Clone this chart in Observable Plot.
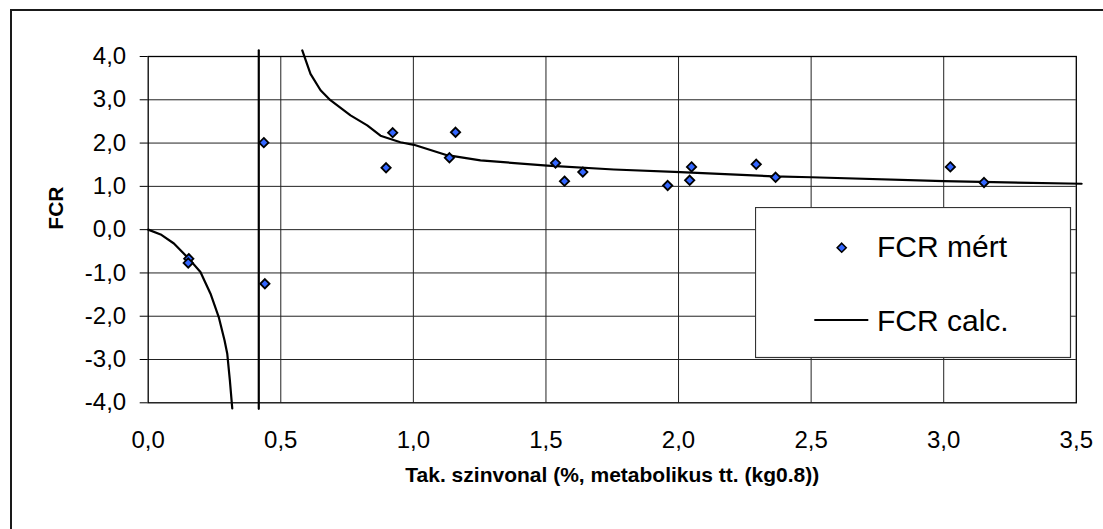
<!DOCTYPE html>
<html><head><meta charset="utf-8">
<script src="https://cdn.jsdelivr.net/npm/d3@7"></script>
<script src="https://cdn.jsdelivr.net/npm/@observablehq/plot@0.6"></script>
<style>
html,body{margin:0;padding:0;background:#fff;overflow:hidden;}
#wrap{position:relative;width:1103px;height:529px;overflow:hidden;font-family:"Liberation Sans",Arial,sans-serif;}
#border{position:absolute;left:10px;top:9px;width:1300px;height:700px;border-left:2px solid #1a1a1a;border-top:2px solid #1a1a1a;box-sizing:border-box;pointer-events:none;}
#legend{position:absolute;left:755px;top:207px;}
</style></head><body><div id="wrap"></div>
<script>
// tick values
const xTicks = [0, 0.5, 1, 1.5, 2, 2.5, 3, 3.5];
const yTicks = [-4, -3, -2, -1, 0, 1, 2, 3, 4];
const xGrid = [0.5, 1, 1.5, 2, 2.5, 3];
const yGrid = [-3, -2, -1, 0, 1, 2, 3];

// FCR mért (measured)
const measuredX = [0.153, 0.151, 0.436, 0.440, 0.897, 0.922, 1.136, 1.159, 1.536, 1.570, 1.639, 1.959, 2.042, 2.049, 2.293, 2.366, 3.025, 3.152];
const measuredY = [-0.67, -0.77, 2.01, -1.25, 1.43, 2.24, 1.66, 2.25, 1.54, 1.12, 1.33, 1.02, 1.14, 1.45, 1.51, 1.21, 1.45, 1.09];

// FCR calc. (three visible pieces)
const calcPiece = [1,1,1,1,1,1,1,1,1,1,1, 2,2, 3,3,3,3,3,3,3,3,3,3,3,3,3,3,3,3,3,3];
const calcX = [0, 0.047, 0.097, 0.153, 0.197, 0.235, 0.266, 0.288, 0.298, 0.308, 0.317,
               0.417, 0.417,
               0.581, 0.612, 0.650, 0.687, 0.763, 0.826, 0.876, 0.951, 1.002, 1.127, 1.253, 1.505, 1.756, 2.007, 2.359, 2.5, 3.0, 3.52];
const calcY = [0, -0.11, -0.32, -0.67, -0.98, -1.48, -2.02, -2.56, -2.86, -3.48, -4.13,
               -4.14, 4.14,
               4.14, 3.6, 3.22, 2.99, 2.64, 2.41, 2.17, 2.02, 1.96, 1.72, 1.60, 1.48, 1.39, 1.33, 1.23, 1.21, 1.12, 1.06];

const xTitle = "Tak. szinvonal (%, metabolikus tt. (kg0.8))";
const yTitle = "FCR";
const legendLabels = ["FCR mért", "FCR calc."];

const measured = measuredX.map((x, i) => ({x, y: measuredY[i]}));
const calc = calcX.map((x, i) => ({x, y: calcY[i], piece: calcPiece[i]}));
const fmt = d => d.toFixed(1).replace(".", ",");
const font = '"Liberation Sans", Arial, sans-serif';

const chart = Plot.plot({
  width: 1103,
  height: 529,
  marginLeft: 147.7,
  marginRight: 27.2,
  marginTop: 56,
  marginBottom: 126.7,
  style: {fontFamily: font, background: "transparent", color: "#000", overflow: "visible"},
  x: {domain: [0, 3.5]},
  y: {domain: [-4, 4]},
  marks: [
    Plot.gridX(xGrid, {stroke: "#222", strokeOpacity: 1, strokeWidth: 1}),
    Plot.gridY(yGrid, {stroke: "#222", strokeOpacity: 1, strokeWidth: 1}),
    Plot.frame({stroke: "#000", strokeWidth: 1.3}),
    Plot.axisY({ticks: yTicks, tickSize: 8, tickPadding: 14, fontSize: 24, tickFormat: fmt, label: null}),
    Plot.axisX({ticks: xTicks, tickSize: 0, tickPadding: 28, fontSize: 24, tickFormat: fmt, label: null}),
    Plot.line(calc, {x: "x", y: "y", z: "piece", stroke: "#000", strokeWidth: 2.2, curve: "linear"}),
    Plot.dot(measured, {x: "x", y: "y", symbol: "diamond2", r: 4.2, fill: "#3366ff", stroke: "#000", strokeWidth: 1.8}),
    Plot.text([yTitle], {text: d => d, frameAnchor: "left", dx: -92, rotate: -90, fontSize: 21, fontWeight: "bold"}),
    Plot.text([xTitle], {text: d => d, frameAnchor: "bottom", dy: 79.5, fontSize: 21, fontWeight: "bold"})
  ]
});

const wrap = document.getElementById("wrap");
wrap.appendChild(chart);

// legend
const ns = "http://www.w3.org/2000/svg";
const leg = document.createElementNS(ns, "svg");
leg.setAttribute("id", "legend");
leg.setAttribute("width", 318);
leg.setAttribute("height", 153);
leg.innerHTML = `
  <rect x="0.5" y="0.5" width="315" height="150" fill="#fff" stroke="#333" stroke-width="1.2"/>
  <path d="M86.7,36.2 L91.2,40.7 L86.7,45.2 L82.2,40.7 Z" fill="#3366ff" stroke="#000" stroke-width="1.6"/>
  <text x="122" y="49.7" font-size="30" font-family='${font}' fill="#000">${legendLabels[0]}</text>
  <line x1="59.3" x2="113.3" y1="113" y2="113" stroke="#000" stroke-width="2"/>
  <text x="122" y="123.7" font-size="30" font-family='${font}' fill="#000">${legendLabels[1]}</text>`;
wrap.appendChild(leg);

const border = document.createElement("div");
border.id = "border";
wrap.appendChild(border);
</script>
</body></html>
